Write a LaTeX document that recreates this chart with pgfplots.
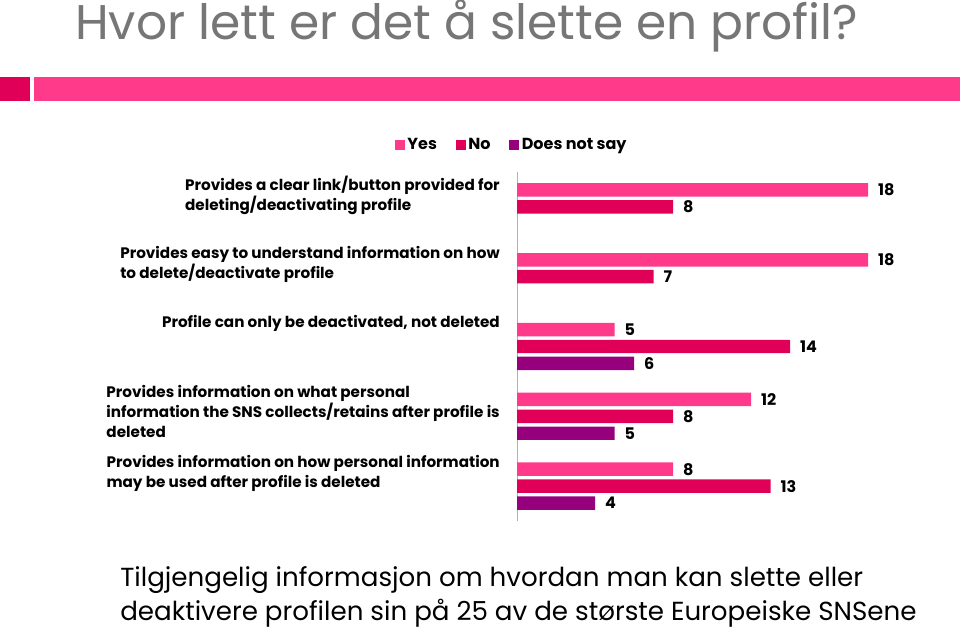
\documentclass[border=0pt]{standalone}
\usepackage{pgfplots}
\pgfplotsset{compat=1.18}
\usepackage{fontspec}
\setmainfont{Poppins}
\definecolor{cyes}{RGB}{255,58,138}
\definecolor{cno}{RGB}{225,0,88}
\definecolor{cdns}{RGB}{150,0,125}
\definecolor{ctitle}{RGB}{118,118,118}
\begin{document}
\begin{tikzpicture}
\useasboundingbox (0,0) rectangle (720pt,474pt);
\node[anchor=base west, inner sep=0, font=\fontsize{36.5}{40}\selectfont, text=ctitle] at (56.25pt,444pt) {Hvor lett er det å slette en profil?};
\fill[cno] (0,397.9pt) rectangle (22.5pt,415.9pt);
\fill[cyes] (25.5pt,397.9pt) rectangle (720pt,415.9pt);
\begin{axis}[
  at={(387.75pt,83.25pt)}, anchor=south west,
  scale only axis, width=292.5pt, height=261.75pt,
  xbar=2.6pt, bar width=10.1pt,
  xmin=0, xmax=20, ymin=-0.5, ymax=4.5, y dir=reverse,
  axis x line=none, axis y line*=left,
  y axis line style={draw=gray!60, -},
  ytick={0,...,4}, major tick length=0pt,
  yticklabels={
    {Provides a clear link/button provided for\\deleting/deactivating profile},
    {Provides easy to understand information on how\\to delete/deactivate profile},
    {Profile can only be deactivated, not deleted},
    {Provides information on what personal\\information the SNS collects/retains after profile is\\deleted},
    {Provides information on how personal information\\may be used after profile is deleted}},
  yticklabel style={anchor=north east, align=left, inner sep=0pt, xshift=-12.75pt, yshift=23.25pt, font=\fontsize{11.4}{15}\selectfont\bfseries},
  /pgf/number format/assume math mode=true,
  nodes near coords,
  nodes near coords style={font=\fontsize{12}{14}\selectfont\bfseries, anchor=west, xshift=4pt},
  legend columns=3,
  legend style={draw=none, at={(-0.0128,1.077)}, anchor=center, font=\fontsize{12}{14}\selectfont\bfseries,
    /tikz/every even column/.append style={column sep=12pt}},
  legend image code/.code={\fill[#1] (0pt,-3.75pt) rectangle (7.5pt,3.75pt);},
]
\addplot[draw=none, fill=cyes, bar shift=12.7pt] coordinates {(18,0) (18,1) (5,2) (12,3) (8,4)};
\addplot[draw=none, fill=cno, bar shift=0pt] coordinates {(8,0) (7,1) (14,2) (8,3) (13,4)};
\addplot[draw=none, fill=cdns, bar shift=-12.7pt] coordinates {(6,2) (5,3) (4,4)};
\legend{Yes, No, Does not say}
\end{axis}
\node[anchor=base west, inner sep=0, font=\fontsize{19.6}{24}\selectfont] at (90pt,34.5pt) {Tilgjengelig informasjon om hvordan man kan slette eller};
\node[anchor=base west, inner sep=0, font=\fontsize{19.6}{24}\selectfont] at (90pt,9pt) {deaktivere profilen sin på 25 av de største Europeiske SNSene};
\end{tikzpicture}
\end{document}
